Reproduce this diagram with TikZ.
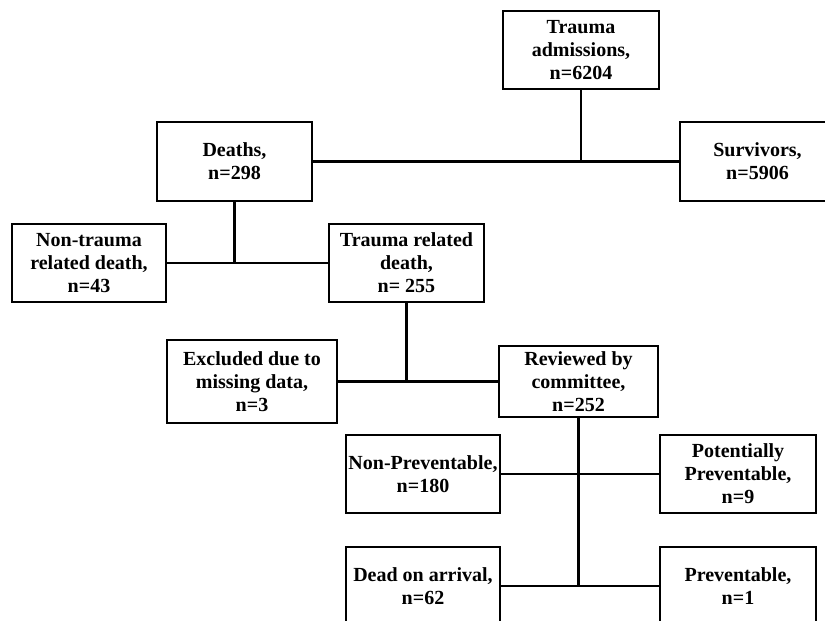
\documentclass[tikz,border=0pt]{standalone}
\usepackage{fontspec}
\setmainfont{Liberation Serif}

\begin{document}
\begin{tikzpicture}[x=1pt,y=-1pt]
\tikzstyle{every node}+=[inner sep=1pt]
\tikzstyle{flowbox}=[draw=black, line width=2.6pt, align=center, font=\bfseries\fontsize{20}{23}\selectfont]
\useasboundingbox (0,0) rectangle (825,621);
\fill [white] (0,0) rectangle (825,621);
\clip (0,0) rectangle (825,621);
\node [flowbox, minimum width=156pt, minimum height=78pt] (adm) at (581,50) {Trauma\\admissions,\\n=6204};
\node [flowbox, minimum width=155pt, minimum height=79pt] (deaths) at (234.5,161.5) {Deaths,\\n=298};
\node [flowbox, minimum width=155pt, minimum height=79pt] (surv) at (757.5,161.5) {Survivors,\\n=5906};
\node [flowbox, minimum width=154pt, minimum height=78pt] (nontr) at (89,263) {Non-trauma\\related death,\\n=43};
\node [flowbox, minimum width=155pt, minimum height=78pt] (trel) at (406.5,263) {Trauma related\\death,\\n= 255};
\node [flowbox, minimum width=170pt, minimum height=83pt] (excl) at (252,381.5) {Excluded due to\\missing data,\\n=3};
\node [flowbox, minimum width=159pt, minimum height=71pt] (rev) at (578.5,381.5) {Reviewed by\\committee,\\n=252};
\node [flowbox, minimum width=154pt, minimum height=78pt] (nonprev) at (423,474) {Non-Preventable,\\n=180};
\node [flowbox, minimum width=156pt, minimum height=78pt] (potprev) at (738,474) {Potentially\\Preventable,\\n=9};
\node [flowbox, minimum width=154pt, minimum height=78pt] (doa) at (423,586) {Dead on arrival,\\n=62};
\node [flowbox, minimum width=156pt, minimum height=78pt] (prev) at (738,586) {Preventable,\\n=1};
\draw [black, line width=2.6pt] (adm.south) -- (adm.south |- deaths.east);
\draw [black, line width=2.6pt] (deaths.east) -- (surv.west);
\draw [black, line width=2.6pt] (deaths.south) -- (deaths.south |- nontr.east);
\draw [black, line width=2.6pt] (nontr.east) -- (trel.west);
\draw [black, line width=2.6pt] (trel.south) -- (trel.south |- excl.east);
\draw [black, line width=2.6pt] (excl.east) -- (rev.west);
\draw [black, line width=2.6pt] (rev.south) -- (rev.south |- doa.east);
\draw [black, line width=2.6pt] (nonprev.east) -- (potprev.west);
\draw [black, line width=2.6pt] (doa.east) -- (prev.west);
\end{tikzpicture}
\end{document}
